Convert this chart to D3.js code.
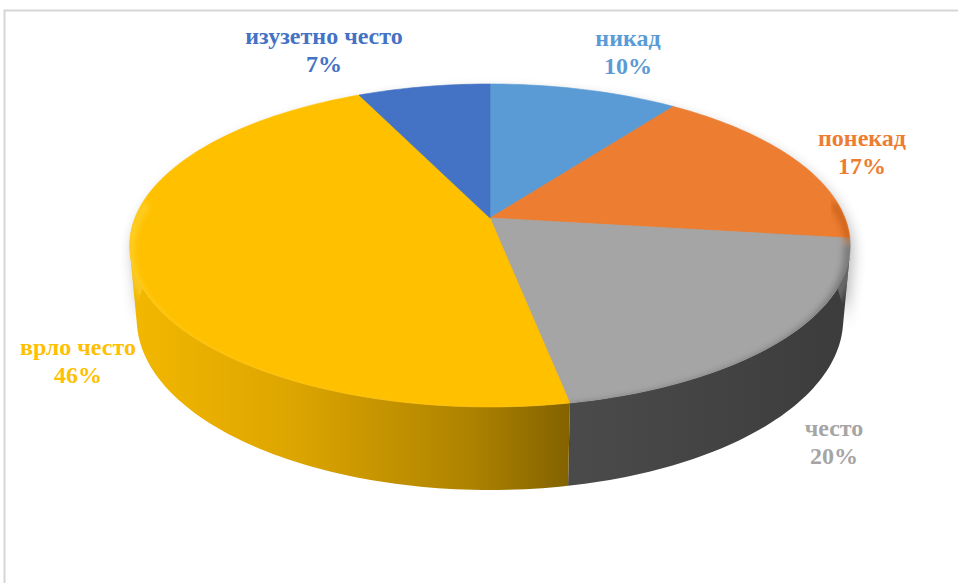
<!DOCTYPE html>
<html>
<head>
<meta charset="utf-8">
<script src="https://cdn.jsdelivr.net/npm/d3@7"></script>
<style>
  html, body { margin: 0; padding: 0; background: #fff; }
  svg { display: block; }
</style>
</head>
<body>
<svg id="chart" width="958" height="583"></svg>
<script>
// Categories and their shares (percent), in clockwise order from 12 o'clock
const categories = ["никад", "понекад", "често", "врло често", "изузетно често"];
const values = [10, 17, 20, 46, 7];
const valueLabels = ["10%", "17%", "20%", "46%", "7%"];
const colors = ["#5B9BD5", "#ED7D31", "#A5A5A5", "#FFC000", "#4472C4"];
const wallColors = ["#2f5f8f", "#9c4a12", "#404040", "#b08300", "#2a4a8a"];
const rimColors = ["#3c78b0", "#c05a18", "#727272", "#FFD53A", "#34589e"];
// Label anchor points (centre x, first-line baseline)
const labelPos = [[628, 46], [862, 146], [834, 436], [78, 355], [324, 44]];

const svg = d3.select("#chart");
const defs = svg.append("defs");

// Chart frame
svg.append("rect")
  .attr("x", 4.5).attr("y", 10.5)
  .attr("width", 1000).attr("height", 700)
  .attr("fill", "#fff")
  .attr("stroke", "#d6d6d6").attr("stroke-width", 2);

// ---- 3D perspective projection of a flat cylinder (pie) ----
const cx = 490, cy = 218;       // screen position of the pie centre (top face)
const elev = Math.asin(0.4417); // camera elevation
const sE = Math.sin(elev), cE = Math.cos(elev);
const dist = 5.27;              // camera distance in radii
const focal = 1871;             // focal length in px per radius
const depth = 0.233;            // thickness in radii

function project(theta, r, h) {
  const X = r * Math.sin(theta);
  const Zp = -r * Math.cos(theta);           // positive toward viewer
  const yDown = Zp * sE - h * cE;
  const z = dist - Zp * cE - h * sE;
  return [cx + focal * X / z, cy + focal * yDown / z];
}

const pie = d3.pie().sort(null).value(d => d.value);
const arcs = pie(categories.map((c, i) => ({ name: c, value: values[i], i })));

const line = d3.line();
function arcPoints(a0, a1, h, n) {
  const pts = [];
  const steps = Math.max(2, Math.ceil(n * (a1 - a0) / (2 * Math.PI)));
  for (let k = 0; k <= steps; k++) {
    const t = a0 + (a1 - a0) * k / steps;
    pts.push(project(t, 1, h));
  }
  return pts;
}

// Visible part of the outer wall (faces the camera)
const kVis = 1 / (dist * cE);
const vis0 = Math.acos(-kVis), vis1 = 2 * Math.PI - vis0;

// Filters
const fShadow = defs.append("filter").attr("id", "shadow")
  .attr("x", "-20%").attr("y", "-20%").attr("width", "140%").attr("height", "140%");
fShadow.append("feGaussianBlur").attr("stdDeviation", 7);
const fRim = defs.append("filter").attr("id", "rimBlur")
  .attr("x", "-10%").attr("y", "-10%").attr("width", "120%").attr("height", "120%");
fRim.append("feGaussianBlur").attr("stdDeviation", 3);

// Wall gradients
const gYellow = defs.append("linearGradient").attr("id", "wall-3")
  .attr("gradientUnits", "userSpaceOnUse")
  .attr("x1", 135).attr("y1", 0).attr("x2", 585).attr("y2", 0);
[["0", "#F2B700"], ["0.35", "#DDA500"], ["0.75", "#AD8200"], ["1", "#7C5D00"]]
  .forEach(([o, c]) => gYellow.append("stop").attr("offset", o).attr("stop-color", c));
const gGray = defs.append("linearGradient").attr("id", "wall-2")
  .attr("gradientUnits", "userSpaceOnUse")
  .attr("x1", 585).attr("y1", 0).attr("x2", 845).attr("y2", 0);
[["0", "#4a4a4a"], ["1", "#3c3c3c"]]
  .forEach(([o, c]) => gGray.append("stop").attr("offset", o).attr("stop-color", c));

// Silhouette (top + bottom ellipses) for shadow and clipping
const topRing = arcPoints(0, 2 * Math.PI, 0, 240);
const botRing = arcPoints(0, 2 * Math.PI, -depth, 240);
const silhouette = line(topRing) + "Z" + line(botRing) + "Z" +
  line([...arcPoints(vis0, vis1, 0, 200), ...arcPoints(vis0, vis1, -depth, 200).reverse()]) + "Z";

defs.append("clipPath").attr("id", "pieClip")
  .append("path").attr("d", silhouette);

// Soft drop shadow
svg.append("path")
  .attr("d", silhouette)
  .attr("transform", "translate(3,7)")
  .attr("fill", "#000").attr("opacity", 0.28)
  .attr("filter", "url(#shadow)");

const g = svg.append("g");

// Outer walls
arcs.forEach(a => {
  const t0 = Math.max(a.startAngle, vis0), t1 = Math.min(a.endAngle, vis1);
  if (t1 <= t0) return;
  const pts = [...arcPoints(t0, t1, 0, 300), ...arcPoints(t0, t1, -depth, 300).reverse()];
  const i = a.data.i;
  g.append("path")
    .attr("d", line(pts) + "Z")
    .attr("fill", (i === 2 || i === 3) ? `url(#wall-${i})` : wallColors[i]);
});

// Top faces
arcs.forEach(a => {
  const pts = [[cx, cy], ...arcPoints(a.startAngle, a.endAngle, 0, 300)];
  g.append("path")
    .attr("d", line(pts) + "Z")
    .attr("fill", colors[a.data.i])
    .attr("stroke", colors[a.data.i]).attr("stroke-width", 0.6);
});

// Rounded-bevel shading along the front rim
const rimG = g.append("g").attr("clip-path", "url(#pieClip)");
arcs.forEach(a => {
  const t0 = Math.max(a.startAngle, vis0 - 0.35), t1 = Math.min(a.endAngle, vis1 + 0.35);
  if (t1 <= t0) return;
  const i = a.data.i;
  rimG.append("path")
    .attr("d", line(arcPoints(t0, t1, -0.02, 300)))
    .attr("fill", "none")
    .attr("stroke", rimColors[i])
    .attr("stroke-width", i === 2 ? 12 : 7)
    .attr("opacity", i === 2 ? 0.85 : 0.75)
    .attr("filter", "url(#rimBlur)");
});

// Data labels: category name above, percentage below
const labels = svg.append("g")
  .attr("font-family", "'Liberation Serif', 'DejaVu Serif', serif")
  .attr("font-weight", "bold")
  .attr("font-size", 24)
  .attr("text-anchor", "middle");
arcs.forEach(a => {
  const i = a.data.i;
  const [lx, ly] = labelPos[i];
  labels.append("text").attr("fill", colors[i])
    .attr("x", lx).attr("y", ly).text(categories[i]);
  labels.append("text").attr("fill", colors[i])
    .attr("x", lx).attr("y", ly + 28).text(valueLabels[i]);
});
</script>
</body>
</html>
